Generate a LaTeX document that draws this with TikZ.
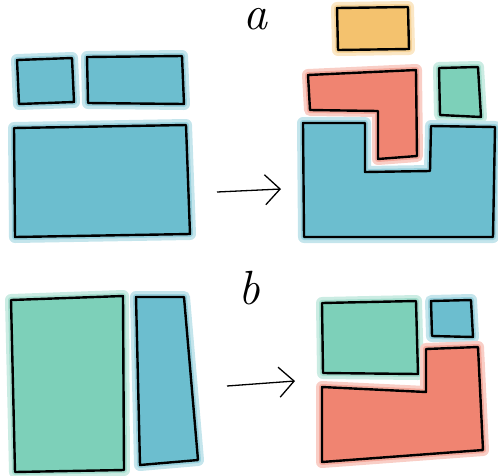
\documentclass[tikz,border=0pt]{standalone}
\usetikzlibrary{arrows.meta}

\definecolor{wblue}{RGB}{108,190,207}
\definecolor{wgreen}{RGB}{125,208,185}
\definecolor{wred}{RGB}{240,132,113}
\definecolor{wyellow}{RGB}{244,194,110}

\begin{document}
\begin{tikzpicture}[x=1pt, y=-1pt,
        wash/.style={preaction={draw=#1!40, line width=12pt, line join=round},
                     preaction={draw=#1!70, line width=6pt, line join=round},
                     preaction={fill=#1}, draw=black, line width=2.4pt, line join=round},
        arrowline/.style={draw=black, line width=1.3pt,
                     -{Straight Barb[length=15pt, width=30pt, line width=1.3pt]}},
        letter/.style={inner sep=0pt, font=\fontsize{48}{48}\selectfont\itshape}]
        \useasboundingbox (0,0) rectangle (498,475);

        % Panel a, before: three blue blocks
        \draw[wash=wblue] (17,60) -- (72,58) -- (74,102) -- (19,104) -- cycle;
        \draw[wash=wblue] (87,57) -- (182,56) -- (184,104) -- (88,103) -- cycle;
        \draw[wash=wblue] (14,128) -- (186,125) -- (190,234) -- (15,237) -- cycle;

        % Panel a, after
        \draw[wash=wyellow] (337,8) -- (408,7) -- (409,49) -- (338,50) -- cycle;
        \draw[wash=wred] (308,75) -- (416,70) -- (417,156) -- (378,159) -- (378,111) -- (310,110) -- cycle;
        \draw[wash=wgreen] (439,68) -- (478,67) -- (481,117) -- (440,115) -- cycle;
        \draw[wash=wblue] (303,123) -- (365,123) -- (365,172) -- (430,171) -- (431,126)
              -- (495,127) -- (493,237) -- (304,237) -- cycle;

        % Panel b, before
        \draw[wash=wgreen] (11,300) -- (123,296) -- (124,470) -- (15,472) -- cycle;
        \draw[wash=wblue] (136,297) -- (184,297) -- (198,460) -- (140,465) -- cycle;

        % Panel b, after
        \draw[wash=wgreen] (322,303) -- (416,301) -- (418,374) -- (323,373) -- cycle;
        \draw[wash=wblue] (431,301) -- (471,300) -- (473,337) -- (432,336) -- cycle;
        \draw[wash=wred] (322,387) -- (426,392) -- (426,349) -- (478,347) -- (483,450)
              -- (322,462) -- cycle;

        % labels
        \node[letter] (labA) at (255,19) {a};
        \node[letter] (labB) at (249,288) {b};

        % arrows between before and after
        \coordinate (arrAs) at (217,192);
        \coordinate (arrAe) at (281,189);
        \coordinate (arrBs) at (227,386);
        \coordinate (arrBe) at (295,381);
        \draw[arrowline] (arrAs) -- (arrAe);
        \draw[arrowline] (arrBs) -- (arrBe);
\end{tikzpicture}
\end{document}
